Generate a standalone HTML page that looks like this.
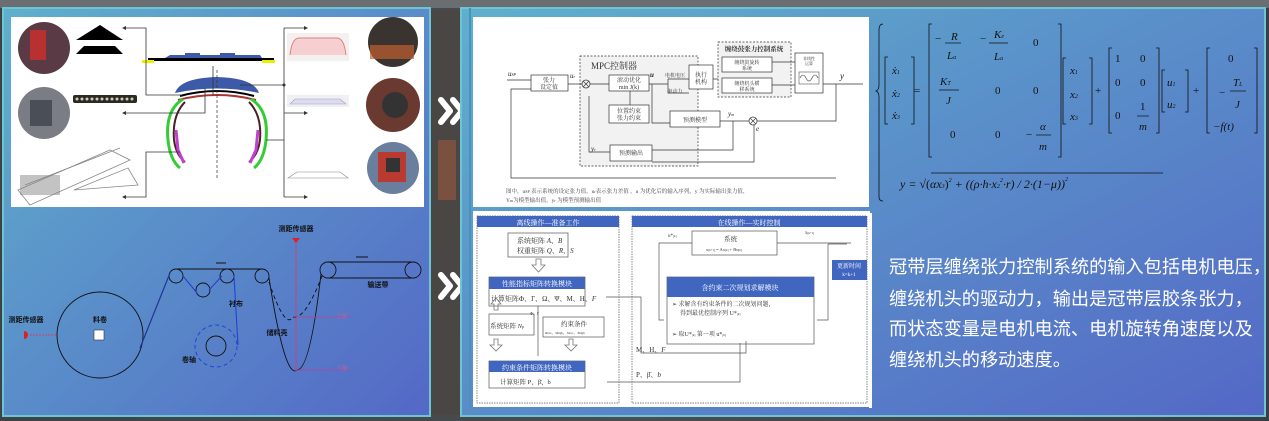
<!DOCTYPE html>
<html><head><meta charset="utf-8"><style>
html,body{margin:0;padding:0;width:1269px;height:421px;overflow:hidden;background:#2e3236}
svg{display:block}
text{font-family:"Liberation Serif","Noto Serif CJK SC",serif}
.s{font-family:"Liberation Sans","Noto Sans CJK SC",sans-serif}
</style></head><body>
<svg width="1269" height="421" viewBox="0 0 1269 421" xmlns="http://www.w3.org/2000/svg">
<defs>
<linearGradient id="pg" x1="0" y1="0" x2="1" y2="1">
<stop offset="0" stop-color="#5fb0cc"/><stop offset="1" stop-color="#5468c6"/></linearGradient>
<linearGradient id="bgd" x1="0" y1="0" x2="1" y2="0">
<stop offset="0" stop-color="#3c4246"/><stop offset="0.5" stop-color="#4a4e50"/><stop offset="1" stop-color="#3a3e44"/></linearGradient>
</defs>
<rect width="1269" height="421" fill="url(#bgd)"/>
<rect x="0" y="0" width="1269" height="8" fill="#6a6e70"/>
<rect x="430" y="10" width="32" height="405" fill="#4a4644"/>
<rect x="438" y="140" width="18" height="60" fill="#7a5040"/>
<!-- left panel -->
<rect x="3" y="8" width="427" height="408" fill="url(#pg)" stroke="#6cc4d4" stroke-width="2"/>
<rect x="11" y="17" width="413" height="190" fill="#fff"/>
<circle cx="44" cy="48" r="26" fill="#5a3a44"/>
<rect x="30" y="30" width="16" height="30" fill="#b83030"/>
<circle cx="44" cy="113" r="26" fill="#7a7e84"/><rect x="30" y="100" width="22" height="26" fill="#4a4e56"/>
<path d="M76 40 L100 25 L123 40Z" fill="#000"/><path d="M76 54 L84 46 L115 46 L123 54Z" fill="#000"/>
<rect x="73" y="95" width="64" height="8" fill="#2a2a20" rx="2"/>
<g fill="#ccb">
<circle cx="77" cy="99" r="1.5"/><circle cx="82" cy="99" r="1.5"/><circle cx="87" cy="99" r="1.5"/><circle cx="92" cy="99" r="1.5"/><circle cx="97" cy="99" r="1.5"/><circle cx="102" cy="99" r="1.5"/><circle cx="107" cy="99" r="1.5"/><circle cx="112" cy="99" r="1.5"/><circle cx="117" cy="99" r="1.5"/><circle cx="122" cy="99" r="1.5"/><circle cx="127" cy="99" r="1.5"/><circle cx="132" cy="99" r="1.5"/></g>
<g stroke="#888" fill="none" stroke-width="0.8"><path d="M18 190 L110 150 L130 160 L30 205Z"/><path d="M25 185 L120 148"/><path d="M74 190 L128 168 L138 185 Z"/></g>
<rect x="20" y="175" width="40" height="20" fill="#888" opacity=".5"/>
<!-- tire -->
<rect x="148" y="58" width="126" height="3" fill="#000"/>
<path d="M165 58 L170 55 L185 55 L185 53 L200 53 L200 55 L220 55 L220 53 L235 53 L235 55 L260 55 L262 58Z" fill="#3d5aa8"/>
<rect x="142" y="60" width="12" height="3" fill="#ee0"/><rect x="262" y="60" width="13" height="3" fill="#ee0"/>
<path d="M175 93 Q180 78 217 77 Q254 78 259 93 Q217 84 175 93Z" fill="#3d5aa8"/>
<path d="M180 96 Q217 86 254 96" stroke="#000" stroke-width="2" fill="none"/>
<path d="M178 100 Q217 90 256 100" stroke="#a33" stroke-width="2" fill="none"/>
<path d="M183 99 Q165 110 168 140 Q170 160 180 168" stroke="#33cc33" stroke-width="3" fill="none"/>
<path d="M251 99 Q269 110 266 140 Q264 160 254 168" stroke="#33cc33" stroke-width="3" fill="none"/>
<path d="M185 102 Q172 115 174 140 Q176 155 185 162" stroke="#4a2020" stroke-width="2" fill="none"/>
<path d="M249 102 Q262 115 260 140 Q258 155 249 162" stroke="#4a2020" stroke-width="2" fill="none"/>
<path d="M176 130 L178 150 L184 163" stroke="#c040d0" stroke-width="3" fill="none"/>
<path d="M258 130 L256 150 L250 163" stroke="#c040d0" stroke-width="3" fill="none"/>
<path d="M217 70 V180" stroke="#333" stroke-dasharray="3,2" stroke-width="0.7"/>
<g stroke="#333" stroke-width="0.8" fill="none">
<path d="M213 95 V66"/><path d="M182 95 H146 V28 H124"/><path d="M205 88 V113 H124"/><path d="M180 152 H146 V197 H124"/>
<path d="M240 85 H284 M284 28 V197 M284 28 H306 M284 113 H306 M284 197 H306 M266 140 H284"/></g>
<g fill="#333"><path d="M122 28 l4 -2 v4z"/><path d="M122 113 l4 -2 v4z"/><path d="M122 197 l4 -2 v4z"/><path d="M308 28 l-4 -2 v4z"/><path d="M308 113 l-4 -2 v4z"/><path d="M308 197 l-4 -2 v4z"/><circle cx="284" cy="85" r="1.5"/></g>
<rect x="287" y="33" width="62" height="28" fill="#f4f0f0"/><path d="M290 55 Q292 37 300 38 L336 38 Q344 37 346 55" stroke="#e08080" fill="#f6d0d0" stroke-width="1"/>
<rect x="287" y="95" width="62" height="12" fill="#f0f0f4"/><path d="M290 104 L295 99 L340 99 L346 104Z" fill="#dcdcec" stroke="#a0a0c8" stroke-width=".6"/>
<path d="M288 178 L297 172 L340 172 L348 178 Z M288 178 H348" stroke="#888" fill="none" stroke-width=".6"/>
<circle cx="393" cy="42" r="25" fill="#3a3430"/><rect x="370" y="45" width="44" height="14" fill="#c06030" opacity=".7"/>
<circle cx="393" cy="105" r="27" fill="#6a3a30"/><circle cx="395" cy="105" r="13" fill="#333"/>
<circle cx="393" cy="168" r="26" fill="#6a7e9e"/><rect x="378" y="152" width="28" height="30" fill="#b83a30"/><rect x="386" y="158" width="14" height="14" fill="#333"/>
<!-- bottom left diagram -->
<g fill="none" stroke="#111" stroke-width="0.9">
<circle cx="100" cy="335" r="43"/>
<circle cx="176" cy="276" r="7"/><circle cx="203" cy="290" r="7"/><circle cx="227" cy="276" r="7"/><circle cx="262" cy="276" r="7"/>
<path d="M176 269 H262"/>
<circle cx="216" cy="346" r="10"/>
<circle cx="328" cy="270" r="8"/><circle cx="413" cy="270" r="8"/>
<path d="M328 262 H413 M328 278 H413"/>
<path d="M269 278 Q285 380 297 370 Q310 370 321 274"/>
<path d="M269 282 Q285 330 293 317 Q305 320 322 276" stroke-dasharray="4,3"/>
</g>
<path d="M140 348 L170 273" stroke="#223399" stroke-width="1.2" fill="none"/>
<path d="M183 276 L197 293 M209 290 L222 276 M234 276 L238 345" stroke="#2244cc" stroke-width="1.1" fill="none"/>
<circle cx="216" cy="346" r="21" fill="none" stroke="#2244cc" stroke-dasharray="4,3"/>
<rect x="94" y="330" width="10" height="10" fill="#fff" stroke="#333" stroke-width=".6"/>
<path d="M296 240 V372" stroke="#d04070" stroke-width=".9"/>
<path d="M296 317 H350 M296 370 H350" stroke="#c04090" stroke-width=".8"/>
<path d="M30 335 H56" stroke="#d04070" stroke-dasharray="2,1"/>
<path d="M292 238 h8 l-4 5z" fill="#e02020"/><path d="M24 331 a4 4 0 0 1 0 8z" fill="#e02020"/>
<path d="M216 263 h10 M356 257 h12" stroke="#111"/>
<g font-size="7" font-weight="bold" fill="#111" text-anchor="middle" class="s">
<text x="296" y="231" class="s">测距传感器</text><text x="26" y="322" class="s">测距传感器</text><text x="100" y="322" class="s">料卷</text>
<text x="236" y="306" class="s">衬布</text><text x="277" y="335" class="s">储料壳</text><text x="189" y="362" class="s">卷轴</text><text x="378" y="287" class="s">输送带</text></g>
<g font-size="6" fill="#c060a0"><text x="336" y="318">上限</text><text x="336" y="370">下限</text></g>
<!-- chevrons -->
<g fill="none" stroke="#fff" stroke-width="6" stroke-linecap="round" stroke-linejoin="round"><path d="M441 100 l9 11 l-9 11"/><path d="M453 100 l9 11 l-9 11"/>
<path d="M441 275 l9 11 l-9 11"/><path d="M453 275 l9 11 l-9 11"/></g>
<!-- right panel -->
<rect x="461" y="8" width="804" height="408" fill="url(#pg)" stroke="#6cc4d4" stroke-width="2"/>
<rect x="469" y="8" width="2" height="400" fill="#4a90c0"/>
<rect x="473" y="17" width="396" height="190" fill="#fff"/>
<rect x="473" y="211" width="397" height="196" fill="#fff"/>
<!-- MPC diagram -->
<g fill="none" stroke="#333" stroke-width="0.7">
<rect x="580" y="56" width="118" height="110" fill="#f2f2f2" stroke-dasharray="2,1.5"/>
<rect x="718" y="42" width="73" height="55" fill="#f2f2f2" stroke-dasharray="2,1.5"/>
<rect x="531" y="75" width="37" height="16" fill="#fff"/>
<circle cx="586" cy="84" r="4"/><path d="M583 81 l6 6 M589 81 l-6 6"/>
<rect x="609" y="75" width="40" height="16" fill="#fff"/>
<rect x="609" y="105" width="40" height="18" fill="#fff"/>
<rect x="670" y="111" width="50" height="16" fill="#fff"/>
<rect x="610" y="145" width="42" height="16" fill="#fff"/>
<rect x="689" y="65" width="24" height="24" fill="#fff"/>
<rect x="722" y="57" width="50" height="15" fill="#fff"/>
<rect x="722" y="78" width="50" height="15" fill="#fff"/>
<rect x="795" y="53" width="28" height="40" fill="#fff"/>
<circle cx="753" cy="121" r="4"/><path d="M750 118 l6 6 M756 118 l-6 6"/>
<path d="M507 80 H531 M568 84 H582 M590 84 H609 M649 84 H668 M668 79 V93 H689 M668 79 H689 M713 79 H718 M772 62 H795 M772 85 H795 M823 84 H863"/>
<path d="M652 84 V123 H670 M720 121 H749 M757 121 H836 V84"/>
<path d="M630 91 V105 M589 96 V152 H610"/>
<path d="M733 121 V150 H652 M754 125 V162 H652"/>
<path d="M836 178 H511 V89 H531"/>
</g>
<g font-size="6" fill="#333" text-anchor="middle">
<text x="549" y="82">张力</text><text x="549" y="89">设定值</text>
<text x="629" y="82">滚动优化</text><text x="629" y="89">min J(k)</text>
<text x="629" y="113">位置约束</text><text x="629" y="120">张力约束</text>
<text x="695" y="122">预测模型</text><text x="631" y="155">预测输出</text>
<text x="701" y="77">执行</text><text x="701" y="84">机构</text>
<text x="747" y="64" font-size="5">缠绕鼓旋转</text><text x="747" y="70" font-size="5">系统</text>
<text x="747" y="85" font-size="5">缠绕机头横</text><text x="747" y="91" font-size="5">移系统</text>
<text x="809" y="60" font-size="4">非线性</text><text x="809" y="65" font-size="4">运算</text>
<text x="614" y="69" font-size="9">MPC控制器</text>
<text x="754" y="51" font-size="6.5" font-weight="bold">缠绕鼓张力控制系统</text>
<text x="675" y="77" font-size="5">电机电压</text><text x="675" y="93" font-size="5">驱动力</text>
</g>
<path d="M800 78 q3 -6 6 0 q3 6 6 0 q3 -6 6 0" stroke="#333" fill="none" stroke-width=".6"/><rect x="799" y="72" width="20" height="12" fill="none" stroke="#333" stroke-width=".5"/>
<g font-size="7" fill="#222" font-style="italic"><text x="508" y="76">u<tspan font-size="4">SP</tspan></text><text x="570" y="78">u<tspan font-size="4">r</tspan></text><text x="650" y="77" font-weight="bold">u</text><text x="840" y="79" font-size="9">y</text><text x="728" y="116">y<tspan font-size="4">m</tspan></text><text x="756" y="131">e</text><text x="591" y="151">y<tspan font-size="4">r</tspan></text></g>
<g font-size="5.5" fill="#444"><text x="506" y="193">图中，u<tspan font-size="4">SP</tspan> 表示系统的设定张力值，u<tspan font-size="4">r</tspan>表示张力差值 ，u 为优化后的输入序列，y 为实际输出张力值，</text><text x="506" y="202">Y<tspan font-size="4">m</tspan>为模型输出值，y<tspan font-size="4">r</tspan> 为模型预测输出值</text></g>
<!-- QP diagram -->
<g fill="none" stroke="#555" stroke-width="0.7">
<rect x="477" y="216" width="142" height="187" stroke-dasharray="1.5,1"/>
<rect x="632" y="216" width="235" height="187" stroke-dasharray="1.5,1"/>
<rect x="508" y="233" width="60" height="24"/>
<rect x="489" y="277" width="96" height="29"/>
<rect x="489" y="314" width="45" height="21"/>
<rect x="543" y="317" width="61" height="20"/>
<rect x="489" y="361" width="96" height="27"/>
<rect x="692" y="231" width="85" height="24"/>
<rect x="667" y="277" width="147" height="67"/>
<path d="M606 297 H641 V353 H746 V341 M607 382 H740 V343 M538 306 V356 M828 244 H847 M828 244 V320 H817 M664 320 H659 V243 H692 M777 243 H851"/>
</g>
<g fill="#4066c0"><rect x="477" y="216" width="142" height="11"/><rect x="632" y="216" width="235" height="11"/>
<rect x="489" y="277" width="96" height="12"/><rect x="489" y="361" width="96" height="11"/>
<rect x="667" y="277" width="147" height="20"/><rect x="832" y="260" width="35" height="20"/></g>
<g fill="none" stroke="#777" stroke-width=".8"><path d="M536 259 h5 v6 h4 l-6.5 7 l-6.5 -7 h4z"/><path d="M494 322 h4 v-6 h3 l-5 -6 l-5 6 h3z" transform="translate(0,-12)"/><path d="M494 339 h4 v6 h4 l-6 6 l-6 -6 h4z"/><path d="M569 339 h4 v6 h4 l-6 6 l-6 -6 h4z"/></g>
<g font-size="7" fill="#fff" text-anchor="middle"><text x="548" y="225">离线操作—准备工作</text><text x="749" y="225">在线操作—实时控制</text>
<text x="537" y="286">性能指标矩阵转换模块</text><text x="537" y="370">约束条件矩阵转换模块</text><text x="740" y="290">含约束二次规划求解模块</text>
<text x="849" y="268" font-size="6">更新时间</text><text x="849" y="276" font-size="5">k=k+1</text></g>
<g font-size="7" fill="#333">
<text x="517" y="243">系统矩阵 <tspan font-style="italic">A</tspan>、<tspan font-style="italic">B</tspan></text><text x="517" y="253">权重矩阵 <tspan font-style="italic">Q</tspan>、<tspan font-style="italic">R</tspan>、<tspan font-style="italic">S</tspan></text>
<text x="491" y="301">计算矩阵Φ、Γ、Ω、Ψ、M、H、<tspan font-style="italic">F</tspan></text>
<text x="490" y="328" font-size="6.5">系统矩阵 <tspan font-style="italic">N</tspan><tspan font-size="4">p</tspan></text>
<text x="561" y="326" font-size="6.5">约束条件</text><text x="545" y="334" font-size="4">u<tspan font-size="3">low</tspan>、u<tspan font-size="3">high</tspan>、x<tspan font-size="3">low</tspan>、x<tspan font-size="3">high</tspan></text>
<text x="500" y="384" font-size="6.5">计算矩阵 P、β̄、b</text>
<text x="530" y="315" font-size="4">Φ、Γ</text>
<text x="724" y="241" font-size="6.5">系统</text><text x="706" y="251" font-size="4.5">x<tspan font-size="3">[k+1]</tspan> = Ax<tspan font-size="3">[k]</tspan> + Bu<tspan font-size="3">[k]</tspan></text>
<text x="672" y="306" font-size="6">➢ 求解含有约束条件的二次规划问题，</text><text x="680" y="315" font-size="6">得到最优控制序列 U*<tspan font-size="3">[k]</tspan></text>
<text x="672" y="336" font-size="6">➢ 取U*<tspan font-size="3">[k]</tspan> 第一项 u*<tspan font-size="3">[k]</tspan></text>
<text x="636" y="352">M、H、<tspan font-style="italic">F</tspan></text><text x="636" y="377">P、β̄、<tspan font-style="italic">b</tspan></text>
<text x="668" y="237" font-size="5">u*<tspan font-size="3">[k]</tspan></text><text x="805" y="234" font-size="5">x<tspan font-size="3">[k+1]</tspan></text>
</g>
<!-- formula -->
<g fill="#111" font-style="italic" font-size="11">
<path d="M883 24 q-4 0 -4 6 v55 q0 5 -3 6 q3 1 3 6 v100 q0 4 4 4" stroke="#111" fill="none" stroke-width=".8"/>
<path d="M888 57 h-3 v67 h3 M911 57 h3 v67 h-3" stroke="#111" fill="none" stroke-width=".8"/>
<text x="892" y="74">ẋ<tspan font-size="6">1</tspan></text><text x="892" y="97">ẋ<tspan font-size="6">2</tspan></text><text x="892" y="119">ẋ<tspan font-size="6">3</tspan></text>
<text x="914" y="94" font-style="normal">=</text>
<path d="M932 24 h-3 v133 h3 M1058 24 h3 v133 h-3" stroke="#111" fill="none" stroke-width=".8"/>
<text x="935" y="42" font-style="normal">−</text><text x="951" y="40">R</text><path d="M945 43 h16" stroke="#111" stroke-width=".7"/><text x="947" y="59">L<tspan font-size="6">a</tspan></text>
<text x="980" y="42" font-style="normal">−</text><text x="994" y="38">K<tspan font-size="6">e</tspan></text><path d="M989 43 h19" stroke="#111" stroke-width=".7"/><text x="994" y="60">L<tspan font-size="6">a</tspan></text>
<text x="1033" y="46" font-style="normal">0</text>
<text x="940" y="85">K<tspan font-size="6">T</tspan></text><path d="M939 90 h20" stroke="#111" stroke-width=".7"/><text x="946" y="104">J</text>
<text x="995" y="94" font-style="normal">0</text><text x="1033" y="94" font-style="normal">0</text>
<text x="950" y="138" font-style="normal">0</text><text x="995" y="138" font-style="normal">0</text>
<text x="1026" y="138" font-style="normal">−</text><text x="1040" y="130">α</text><path d="M1036 135 h15" stroke="#111" stroke-width=".7"/><text x="1039" y="150">m</text>
<path d="M1066 58 h-3 v66 h3 M1089 58 h3 v66 h-3" stroke="#111" fill="none" stroke-width=".8"/>
<text x="1070" y="74">x<tspan font-size="6">1</tspan></text><text x="1070" y="98">x<tspan font-size="6">2</tspan></text><text x="1070" y="120">x<tspan font-size="6">3</tspan></text>
<text x="1095" y="94" font-style="normal">+</text>
<path d="M1112 48 h-3 v85 h3 M1156 48 h3 v85 h-3" stroke="#111" fill="none" stroke-width=".8"/>
<text x="1115" y="62" font-style="normal">1</text><text x="1140" y="62" font-style="normal">0</text>
<text x="1115" y="86" font-style="normal">0</text><text x="1140" y="86" font-style="normal">0</text>
<text x="1115" y="119" font-style="normal">0</text><text x="1140" y="110" font-style="normal">1</text><path d="M1137 116 h12" stroke="#111" stroke-width=".7"/><text x="1139" y="130">m</text>
<path d="M1165 70 h-3 v42 h3 M1185 70 h3 v42 h-3" stroke="#111" fill="none" stroke-width=".8"/>
<text x="1167" y="86">u<tspan font-size="6">1</tspan></text><text x="1167" y="108">u<tspan font-size="6">2</tspan></text>
<text x="1193" y="94" font-style="normal">+</text>
<path d="M1210 48 h-3 v85 h3 M1254 48 h3 v85 h-3" stroke="#111" fill="none" stroke-width=".8"/>
<text x="1228" y="62" font-style="normal">0</text>
<text x="1219" y="96" font-style="normal">−</text><text x="1233" y="86">T<tspan font-size="6">L</tspan></text><path d="M1230 91 h16" stroke="#111" stroke-width=".7"/><text x="1235" y="108">J</text>
<text x="1213" y="130">−f(t)</text>
<text x="900" y="188" font-size="12">y = √<tspan font-style="normal">(</tspan>αx<tspan font-size="6">3</tspan><tspan font-style="normal">)</tspan><tspan font-size="6" dy="-6">2</tspan><tspan dy="6"> + ((ρ·h·x</tspan><tspan font-size="6">2</tspan><tspan font-size="6" dy="-6">2</tspan><tspan dy="6">·r) / 2·(1−μ))</tspan><tspan font-size="6" dy="-7">2</tspan></text>
<path d="M931 173 H1163" stroke="#111" stroke-width=".7"/>
</g>
<rect x="869" y="213" width="3" height="195" fill="#fff"/>
<g font-size="18.2" fill="#fff" class="s"><text x="889" y="273" class="s">冠带层缠绕张力控制系统的输入包括电机电压，</text><text x="889" y="305" class="s">缠绕机头的驱动力，输出是冠带层胶条张力，</text><text x="889" y="335" class="s">而状态变量是电机电流、电机旋转角速度以及</text><text x="889" y="366" class="s">缠绕机头的移动速度。</text></g>
</svg>
</body></html>
